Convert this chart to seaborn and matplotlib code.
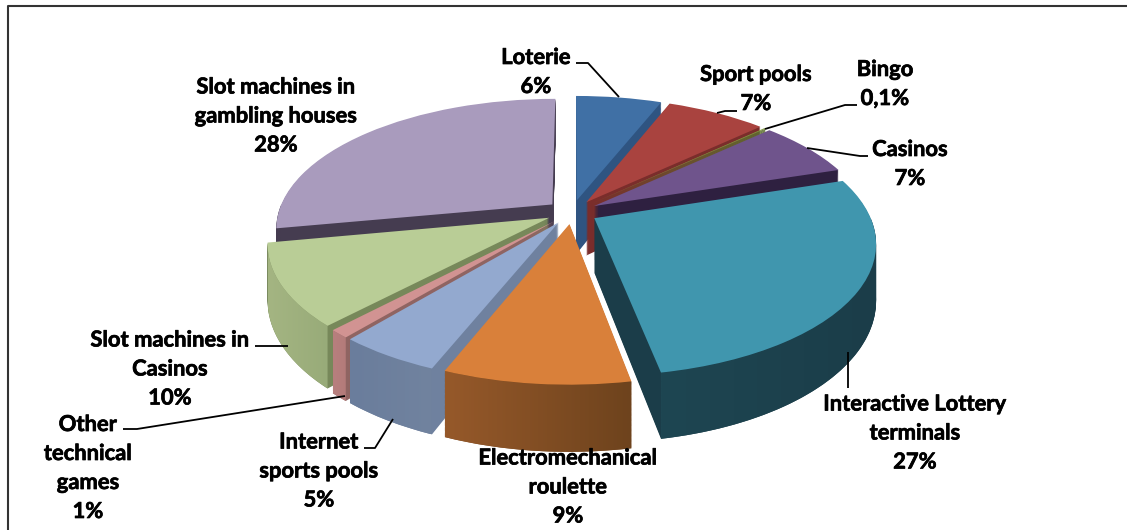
import numpy as np
import matplotlib
matplotlib.use("Agg")
import matplotlib.pyplot as plt
import matplotlib.patheffects as pe
import seaborn as sns
from matplotlib.colors import LinearSegmentedColormap
from matplotlib.path import Path
from matplotlib.patches import Polygon
from matplotlib.transforms import Transform

# chart values (percent)
categories = ["Loterie", "Sport pools", "Bingo", "Casinos", "Interactive Lottery\nterminals",
              "Electromechanical\nroulette", "Internet\nsports pools", "Other\ntechnical\ngames",
              "Slot machines in\nCasinos", "Slot machines in\ngambling houses"]
shares = [6, 7, 0.1, 7, 27, 9, 5, 1, 10, 28]
share_labels = ["6%", "7%", "0,1%", "7%", "27%", "9%", "5%", "1%", "10%", "28%"]

# colours
top_colors = ["#4070A5", "#A9433F", "#7F9A3F", "#6F548C", "#4096AE",
              "#D9803A", "#93A9CF", "#D19392", "#B9CD96", "#A99BBD"]
side_colors = ["#2F5481", "#7A2D2B", "#5D7030", "#2E2040", "#1B3D49",
               "#75461F", "#6F819F", "#8F6462", "#77885A", "#453C50"]
wall_left = ["#2F5481", "#7A2D2B", "#5D7030", "#2E2040", "#1E4652",
             "#96592A", "#6A7D9C", "#B87F7E", "#A4B582", "#453C50"]
wall_right = ["#2F5481", "#7A2D2B", "#5D7030", "#2E2040", "#1B3D49",
              "#6E431D", "#71839F", "#B37B7A", "#98AB79", "#453C50"]

# label placement in pixels of the 1127x530 picture
label_xy = [(536, 72), (756, 89), (885, 84), (910, 164), (915, 433),
            (568, 487), (319, 471), (88, 468), (170, 369), (276, 116)]
leaders = [
    [(576, 63), (588, 63), (619, 97)],
    [(717, 113), (725, 111), (737, 111)],
    [(765, 129), (845, 105), (857, 105)],
    [(807, 148), (860, 156), (868, 156)],
    [(848, 352), (848, 388)],
    [(393, 419), (375, 448), (364, 448)],
    [(123, 429), (137, 429), (345, 396)],
    [(255, 346), (288, 346)],
]

explode = 0.094
depth = 54
paint_order = [0, 1, 2, 9, 3, 8, 4, 7, 6, 5]


class TiltedPie(Transform):
    """Lays the flat pie down: pie units to picture pixels, with some perspective."""
    input_dims = 2
    output_dims = 2
    has_inverse = False
    is_separable = False

    def __init__(self, drop=0.0):
        super().__init__()
        self.drop = drop

    def transform_non_affine(self, values):
        values = np.asarray(values, dtype=float)
        f = 1 / (1 + 0.179 * values[:, 1])
        px = 572 + 274 * values[:, 0] * f
        py = 212 - 127 * values[:, 1] * f + self.drop * f
        return np.column_stack([px, py])

    def transform_path_non_affine(self, path):
        return Path(self.transform_non_affine(path.vertices), path.codes)


sns.set_theme(style="white")
plt.rcParams["font.family"] = ["Lato", "DejaVu Sans"]

fig, ax = plt.subplots(figsize=(11.27, 5.30), dpi=100)
fig.subplots_adjust(left=0, right=1, bottom=0, top=1)


def draw_pie(colors, drop, level):
    wedges, _ = ax.pie(shares, explode=[explode] * len(shares), colors=colors, startangle=90,
                       counterclock=False, wedgeprops={"linewidth": 0})
    for i, w in enumerate(wedges):
        w.set_transform(TiltedPie(drop) + ax.transData)
        w.set_zorder(paint_order.index(i) + level)
    return wedges


# side of every slice: a stack of dark pies, then the light top
for d in np.arange(depth, 0, -1.0):
    draw_pie(sns.color_palette(side_colors), d, 0.1 + 0.3 * (1 - d / depth))
top = draw_pie(sns.color_palette(top_colors), 0, 0.8)

# rounded outer walls get the horizontal shading, front half only
for i, w in enumerate(top):
    t = np.radians(np.linspace(w.theta1, w.theta2, 200))
    t = t[np.sin(t) < 0]
    if len(t) < 2:
        continue
    arc = np.column_stack([w.center[0] + w.r * np.cos(t), w.center[1] + w.r * np.sin(t)])
    outline = np.vstack([TiltedPie(0).transform_non_affine(arc),
                         TiltedPie(depth).transform_non_affine(arc)[::-1]])
    shade = LinearSegmentedColormap.from_list("wall", [wall_left[i], wall_right[i]])
    x0, x1 = outline[:, 0].min(), outline[:, 0].max()
    y0, y1 = outline[:, 1].min(), outline[:, 1].max()
    im = ax.imshow(np.linspace(0, 1, 128).reshape(1, -1), cmap=shade, extent=(x0, x1, y1, y0),
                   aspect="auto", zorder=paint_order.index(i) + 0.6, interpolation="bilinear")
    clip = Polygon(outline, closed=True, transform=ax.transData, facecolor="none", edgecolor="none")
    ax.add_patch(clip)
    im.set_clip_path(clip)

for name, pct, (x, y) in zip(categories, share_labels, label_xy):
    ax.text(x, y, f"{name}\n{pct}", ha="center", va="center", fontsize=15.8, fontweight="bold",
            color="black", linespacing=1.47, zorder=20,
            path_effects=[pe.withStroke(linewidth=0.5, foreground="black")])

for pts in leaders:
    xs, ys = zip(*pts)
    ax.plot(xs, ys, color="black", lw=1.3, zorder=19, solid_capstyle="butt")

# chart frame, cut off at the bottom and right of the picture
ax.plot([7.5, 7.5, 1127], [530, 5.5, 5.5], color="#333333", lw=1.5, zorder=19)

ax.set_aspect("auto")
ax.set_xlim(0, 1127)
ax.set_ylim(530, 0)
ax.axis("off")

fig.savefig("out.png", dpi=100, facecolor="white")
